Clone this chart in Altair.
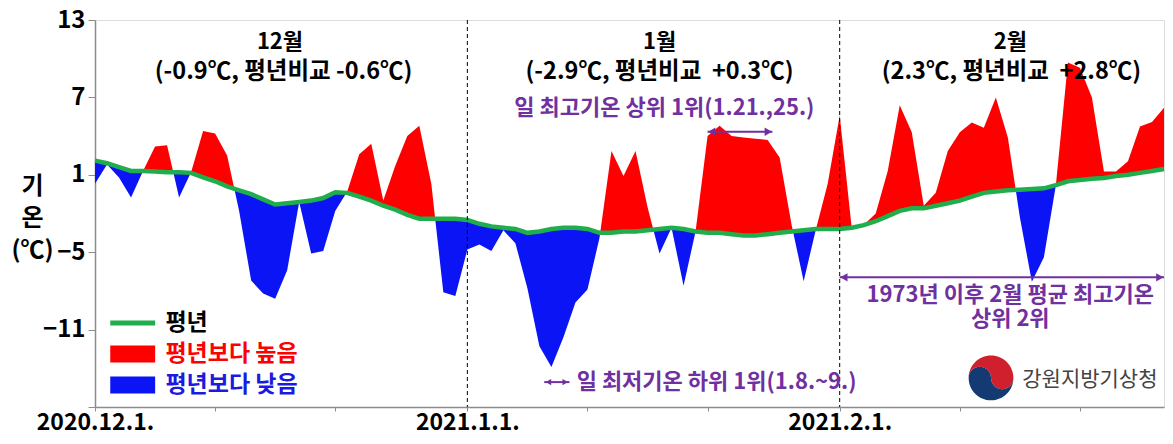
import altair as alt
import pandas as pd

# ---------------- data ----------------
days = list(range(90))  # 0 = 2020-12-01 ... 89 = 2021-02-28
normal = [
    2.1, 1.9, 1.6, 1.3, 1.3, 1.25, 1.2, 1.2, 1.15, 0.8,
    0.5, 0.1, -0.2, -0.5, -0.9, -1.3, -1.2, -1.1, -1.0, -0.8,
    -0.35, -0.4, -0.7, -1.0, -1.4, -1.7, -2.1, -2.4, -2.4, -2.4,
    -2.4, -2.5, -2.8, -3.0, -3.1, -3.2, -3.5, -3.4, -3.2, -3.1,
    -3.1, -3.2, -3.5, -3.5, -3.4, -3.4, -3.3, -3.2, -3.1, -3.2,
    -3.4, -3.5, -3.5, -3.6, -3.7, -3.7, -3.6, -3.5, -3.4, -3.3,
    -3.2, -3.2, -3.2, -3.1, -2.9, -2.6, -2.2, -1.8, -1.6, -1.6,
    -1.4, -1.2, -1.0, -0.7, -0.4, -0.3, -0.2, -0.15, -0.1, -0.05,
    0.2, 0.5, 0.6, 0.7, 0.75, 0.9, 1.0, 1.15, 1.3, 1.45,
]
observed = [
    0.3, 1.8, 0.8, -0.75, 1.3, 3.2, 3.3, -0.75, 1.2, 4.4,
    4.2, 2.5, -1.8, -7.2, -8.2, -8.6, -6.4, -1.1, -5.1, -4.9,
    -1.8, -0.3, 2.6, 3.4, -1.0, 1.7, 4.0, 4.8, 0.3, -8.1,
    -8.4, -4.8, -4.4, -4.9, -3.3, -4.3, -7.8, -12.3, -13.9, -11.6,
    -8.9, -7.9, -3.9, 2.85, 0.9, 2.85, -1.5, -5.1, -3.1, -7.6,
    -3.4, 4.0, 4.8, 4.0, 3.9, 3.8, 3.7, 2.35, -2.9, -7.25,
    -3.3, 0.3, 5.6, -3.1, -2.9, -2.0, 1.3, 6.4, 4.3, -1.4,
    -0.4, 2.85, 4.3, 5.05, 4.65, 7.0, 3.9, -2.3, -7.3, -5.4,
    0.2, 9.7, 9.3, 7.0, 1.25, 1.25, 2.05, 4.75, 5.1, 6.2,
]

series_names = ["평년", "평년보다 높음", "평년보다 낮음"]
series_colors = ["#1fae4b", "#ff0000", "#0a14f5"]
label_colors = ["#000000", "#ff0000", "#1a1ae0"]

x_tick_days = [0, 10, 20, 31, 41, 51, 62, 72, 82]
x_label_days = [0, 31, 62]
x_labels = ["2020.12.1.", "2021.1.1.", "2021.2.1."]
y_tick_values = [13, 10, 7, 4, 1, -2, -5, -8, -11, -14, -17]
y_label_values = [13, 7, 1, -5, -11]
month_lines = [31, 62]

month_text = ["12월", "1월", "2월"]
month_day = [15.4, 47.0, 76.2]
month_temp = [11.3, 11.3, 11.3]

summary_text = ["(-0.9℃, 평년비교 -0.6℃)", "(-2.9℃, 평년비교\u00a0 +0.3℃)",
                "(2.3℃, 평년비교\u00a0 +2.8℃)"]
summary_day = [15.7, 47.0, 76.3]
summary_temp = [8.98, 8.98, 8.98]

note_text = ["일 최고기온 상위 1위(1.21.,25.)", "1973년 이후 2월 평균 최고기온\n상위 2위"]
note_day = [47.4, 76.2]
note_temp = [6.2, -8.35]

note2_text = ["일 최저기온 하위 1위(1.8.~9.)"]
note2_day = [40.1]
note2_temp = [-15.07]

arrow_start = [51.0, 37.4, 62.0]
arrow_end = [56.4, 39.5, 89.0]
arrow_temp = [4.34, -15.07, -6.95]
arrow_head = [70, 40, 70]

logo_text = ["강원지방기상청"]
logo_day = [77.2]
logo_temp = [-14.9]
emblem_day = [74.6]
emblem_temp = [-14.75]

FONT = "Noto Sans CJK KR"
PURPLE = "#7030a0"

# ---------------- derived tables ----------------
pts = []
for i in range(len(days)):
    o, n = observed[i], normal[i]
    pts.append((days[i], o, n))
    if i < len(days) - 1:
        d0 = o - n
        d1 = observed[i + 1] - normal[i + 1]
        if d0 * d1 < 0:
            t = d0 / (d0 - d1)
            xc = days[i] + t * (days[i + 1] - days[i])
            nc = n + t * (normal[i + 1] - n)
            pts.append((xc, nc, nc))
area_rows = []
for xd, o, n in pts:
    area_rows.append({"day": xd, "val": max(o, n), "base": n, "type": series_names[1]})
    area_rows.append({"day": xd, "val": min(o, n), "base": n, "type": series_names[2]})
area_df = pd.DataFrame(area_rows)

line_df = pd.DataFrame({"day": days, "normal": normal})
rule_df = pd.DataFrame({"day": month_lines})
month_df = pd.DataFrame({"text": month_text, "day": month_day, "temp": month_temp})
summ_df = pd.DataFrame({"text": summary_text, "day": summary_day, "temp": summary_temp})
note_df = pd.DataFrame({"text": note_text, "day": note_day, "temp": note_temp})
note2_df = pd.DataFrame({"text": note2_text, "day": note2_day, "temp": note2_temp})
arrow_df = pd.DataFrame({"d1": arrow_start, "d2": arrow_end, "temp": arrow_temp, "hs": arrow_head})
lhead = pd.DataFrame({"day": [a + 0.35 for a in arrow_start], "temp": arrow_temp, "hs": arrow_head})
rhead = pd.DataFrame({"day": [b - 0.35 for b in arrow_end], "temp": arrow_temp, "hs": arrow_head})
logo_df = pd.DataFrame({"text": logo_text, "day": logo_day, "temp": logo_temp})
emblem_df = pd.DataFrame({"day": emblem_day, "temp": emblem_temp})

# ---------------- scales / axes ----------------
xs = alt.Scale(domain=[0, 89], nice=False, zero=False)
ys = alt.Scale(domain=[-17, 13], nice=False, zero=False)

x_expr = " : ".join(
    f"datum.value == {d} ? '{l}'" for d, l in zip(x_label_days, x_labels)
) + " : ''"
y_expr = "indexof([" + ",".join(str(v) for v in y_label_values) + "], datum.value) >= 0 ? datum.label : ''"

x_axis = alt.Axis(values=x_tick_days, labelExpr=x_expr, title=None, grid=False,
                  tickSize=4, labelFontSize=23, labelFontWeight="bold", labelFont=FONT,
                  labelPadding=0, labelFlush=False, labelOverlap=False, labelColor="black",
                  domainColor="#8c8c8c", tickColor="#8c8c8c", domainWidth=1.5)
y_axis = alt.Axis(values=y_tick_values, labelExpr=y_expr, grid=False, tickSize=7,
                  labelFontSize=24, labelFontWeight="bold", labelFont=FONT, labelPadding=3,
                  labelOverlap=False, labelColor="black",
                  domainColor="#8c8c8c", tickColor="#8c8c8c", domainWidth=1.5,
                  title=["기", "온", "(℃)"], titleAngle=0, titleX=-63, titleY=166,
                  titleAlign="center", titleBaseline="middle", titleFontSize=24,
                  titleFont=FONT, titleFontWeight="bold", titleLineHeight=32, titleColor="black")

bar_small = "M-1.42,-0.16H1.42V0.16H-1.42Z"
bar_big = "M-1.42,-0.54H1.42V0.54H-1.42Z"
sym_expr = f"datum.value == '{series_names[0]}' ? '{bar_small}' : '{bar_big}'"
lab_expr = (f"datum.value == '{series_names[1]}' ? '{label_colors[1]}' : "
            f"datum.value == '{series_names[2]}' ? '{label_colors[2]}' : '{label_colors[0]}'")

legend = alt.Legend(orient="none", legendX=21.7, legendY=287, padding=0, rowPadding=3,
                    symbolSize=1000, symbolType=alt.ExprRef(expr=sym_expr),
                    labelColor=alt.ExprRef(expr=lab_expr), labelFontSize=23,
                    labelFont=FONT, labelFontWeight="bold", labelOffset=16.7,
                    symbolStrokeWidth=0, labelLimit=400, symbolOpacity=1)

# ---------------- layers ----------------
areas = alt.Chart(area_df).mark_area(opacity=1, interpolate="linear").encode(
    x=alt.X("day:Q", scale=xs, axis=x_axis),
    y=alt.Y("val:Q", scale=ys, axis=y_axis),
    y2="base:Q",
    color=alt.Color("type:N", scale=alt.Scale(domain=series_names, range=series_colors),
                    legend=legend, title=None),
)

line = alt.Chart(line_df).mark_line(color=series_colors[0], strokeWidth=4.5).encode(
    x=alt.X("day:Q", scale=xs), y=alt.Y("normal:Q", scale=ys)
)

rules = alt.Chart(rule_df).mark_rule(color="black", strokeWidth=1, strokeDash=[4, 3]).encode(
    x=alt.X("day:Q", scale=xs)
)

months = alt.Chart(month_df).mark_text(font=FONT, fontSize=22, fontWeight="bold", color="black",
                                       align="center", baseline="middle").encode(
    x=alt.X("day:Q", scale=xs), y=alt.Y("temp:Q", scale=ys), text="text:N")
summ = alt.Chart(summ_df).mark_text(font=FONT, fontSize=23.5, fontWeight="bold", color="black",
                                    align="center", baseline="middle").encode(
    x=alt.X("day:Q", scale=xs), y=alt.Y("temp:Q", scale=ys), text="text:N")

notes = alt.Chart(note_df).mark_text(font=FONT, fontSize=22, fontWeight="bold", color=PURPLE,
                                     align="center", baseline="middle", lineBreak="\n",
                                     lineHeight=24).encode(
    x=alt.X("day:Q", scale=xs), y=alt.Y("temp:Q", scale=ys), text="text:N")

notes2 = alt.Chart(note2_df).mark_text(font=FONT, fontSize=22, fontWeight="bold", color=PURPLE,
                                       align="left", baseline="middle").encode(
    x=alt.X("day:Q", scale=xs), y=alt.Y("temp:Q", scale=ys), text="text:N")

arrows = alt.Chart(arrow_df).mark_rule(color=PURPLE, strokeWidth=2).encode(
    x=alt.X("d1:Q", scale=xs), x2="d2:Q", y=alt.Y("temp:Q", scale=ys))
lh = alt.Chart(lhead).mark_point(shape="triangle-left", filled=True, color=PURPLE, opacity=1).encode(
    x=alt.X("day:Q", scale=xs), y=alt.Y("temp:Q", scale=ys),
    size=alt.Size("hs:Q", scale=None, legend=None))
rh = alt.Chart(rhead).mark_point(shape="triangle-right", filled=True, color=PURPLE, opacity=1).encode(
    x=alt.X("day:Q", scale=xs), y=alt.Y("temp:Q", scale=ys),
    size=alt.Size("hs:Q", scale=None, legend=None))

red_path = "M-1,0A1,1,0,0,1,1,0A0.5,0.5,0,0,1,0,0A0.5,0.5,0,0,0,-1,0Z"
blue_path = "M-1,0A1,1,0,0,0,1,0A0.5,0.5,0,0,1,0,0A0.5,0.5,0,0,0,-1,0Z"
em_red = alt.Chart(emblem_df).mark_point(shape=red_path, filled=True, color="#d0202e",
                                         size=2000, opacity=1, strokeWidth=0).encode(
    x=alt.X("day:Q", scale=xs), y=alt.Y("temp:Q", scale=ys))
em_blue = alt.Chart(emblem_df).mark_point(shape=blue_path, filled=True, color="#133a72",
                                          size=2000, opacity=1, strokeWidth=0).encode(
    x=alt.X("day:Q", scale=xs), y=alt.Y("temp:Q", scale=ys))
logo = alt.Chart(logo_df).mark_text(font=FONT, fontSize=21, color="#444444",
                                    align="left", baseline="middle").encode(
    x=alt.X("day:Q", scale=xs), y=alt.Y("temp:Q", scale=ys), text="text:N")

chart = alt.layer(
    areas, line, rules, months, summ, notes, notes2, arrows, lh, rh, em_red, em_blue, logo
).properties(
    width=1069, height=387,
    autosize=alt.AutoSizeParams(type="none"),
    padding={"left": 87, "top": 12, "right": 1, "bottom": 29},
    background="white",
).configure_view(stroke="#8c8c8c", strokeWidth=1.5).configure(font=FONT)

chart.save("out.html", embed_options={"renderer": "svg", "actions": False})
